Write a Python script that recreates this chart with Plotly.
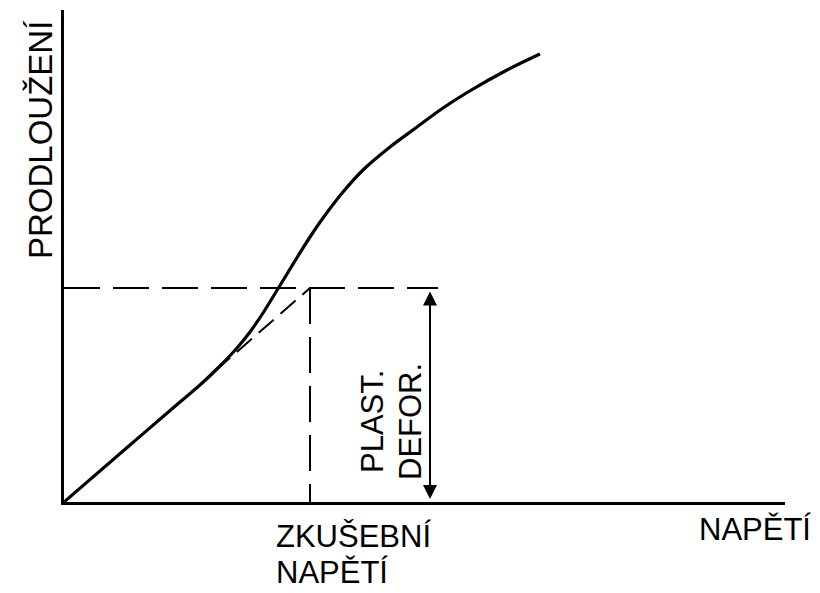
import plotly.graph_objects as go

# Stress (napětí) vs. elongation (prodloužení) curve, arbitrary units
napeti = [0.0, 6.6, 11.6, 13.6, 15.6, 17.3, 18.6, 19.9, 21.2, 22.3, 23.4, 24.6,
          25.9, 27.9, 29.9, 32.6, 35.3, 37.9, 40.4, 44.3, 47.6]
prodlouzeni = [0.0, 5.7, 10.0, 11.7, 13.6, 15.4, 17.0, 18.9, 21.0, 22.8, 24.6, 26.5,
               28.4, 31.0, 33.2, 35.5, 37.5, 39.4, 41.0, 43.2, 44.8]

# Test stress and the elongation reached at it
zkusebni_napeti = 24.6
prodlouzeni_pri_zkousce = 21.4
# Proportional (elastic) line continued as a dashed extension
umerna_start = [15.1, 13.1]
konec_vodorovne = 37.4
poloha_sipky = 36.6

X_MAX, Y_MAX = 72.1, 49.2
FONT = "Liberation Sans, Arial, sans-serif"
L, R, T, B = 64, 35, 10, 91

fig = go.Figure()

# main curve
fig.add_trace(go.Scatter(
    x=napeti, y=prodlouzeni, mode="lines",
    line=dict(color="black", width=3.2, shape="spline", smoothing=1.0),
    hoverinfo="skip", showlegend=False, cliponaxis=False,
))

dash = "36px,13px"
# dashed horizontal at the elongation level
fig.add_trace(go.Scatter(
    x=[0, konec_vodorovne], y=[prodlouzeni_pri_zkousce, prodlouzeni_pri_zkousce],
    mode="lines", line=dict(color="black", width=2, dash=dash),
    hoverinfo="skip", showlegend=False,
))
# dashed vertical at the test stress
fig.add_trace(go.Scatter(
    x=[zkusebni_napeti, zkusebni_napeti], y=[prodlouzeni_pri_zkousce, 0],
    mode="lines", line=dict(color="black", width=2, dash=dash),
    hoverinfo="skip", showlegend=False,
))
# dashed extension of the proportional part
fig.add_trace(go.Scatter(
    x=[umerna_start[0], zkusebni_napeti], y=[umerna_start[1], prodlouzeni_pri_zkousce],
    mode="lines", line=dict(color="black", width=2, dash="20px,9px"),
    hoverinfo="skip", showlegend=False,
))

plot_w = 820 - L - R
plot_h = 593 - T - B


def px(xp):
    return (xp - L) / plot_w


def py(yp):
    return (593 - B - yp) / plot_h


def label(text, x, y, size=31, **kw):
    return dict(x=x, y=y, xref="paper", yref="paper", text=text, showarrow=False,
                font=dict(family=FONT, size=size, color="black"), **kw)


annotations = [
    # double-headed arrow for the plastic deformation
    dict(x=poloha_sipky, y=0.3, ax=poloha_sipky, ay=prodlouzeni_pri_zkousce - 0.2,
         xref="x", yref="y", axref="x", ayref="y", text="", showarrow=True,
         arrowhead=2, arrowside="end+start", arrowsize=1.4, arrowwidth=2, arrowcolor="black"),
    dict(x=30.8, y=8.0, xref="x", yref="y", text="PLAST.", textangle=-90, showarrow=False,
         font=dict(family=FONT, size=31, color="black")),
    dict(x=34.6, y=8.0, xref="x", yref="y", text="DEFOR.", textangle=-90, showarrow=False,
         font=dict(family=FONT, size=31, color="black")),
    label("PRODLOUŽENÍ", px(40), py(140), size=33, textangle=-90,
          xanchor="center", yanchor="middle"),
    label("ZKUŠEBNÍ", px(274), py(536), xanchor="left", yanchor="middle"),
    label("NAPĚTÍ", px(274), py(592), xanchor="left", yanchor="bottom"),
    label("NAPĚTÍ", px(697), py(529), xanchor="left", yanchor="middle"),
]

fig.update_layout(
    width=820, height=593,
    margin=dict(l=L, r=R, t=T, b=B),
    paper_bgcolor="white", plot_bgcolor="white",
    xaxis=dict(range=[0, X_MAX], showgrid=False, zeroline=False, showticklabels=False,
               ticks="", showline=True, linecolor="black", linewidth=3),
    yaxis=dict(range=[0, Y_MAX], showgrid=False, zeroline=False, showticklabels=False,
               ticks="", showline=True, linecolor="black", linewidth=3),
    annotations=annotations,
)

fig.write_html("out.html")
